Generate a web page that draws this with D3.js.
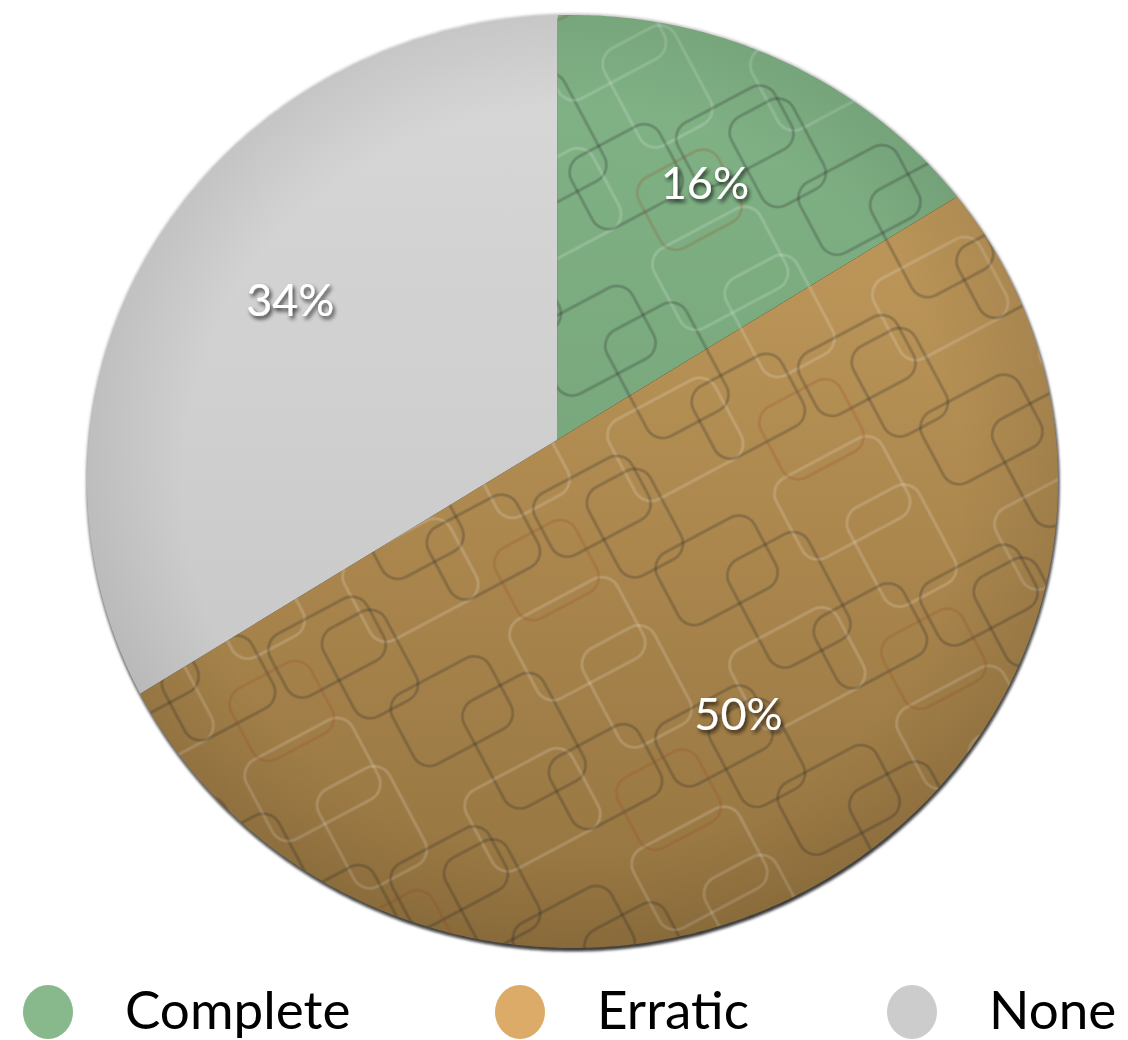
<!DOCTYPE html>
<html>
<head>
<meta charset="utf-8">
<script src="https://cdn.jsdelivr.net/npm/d3@7"></script>
<style>
  body { margin: 0; background: #fff; }
  svg { display: block; }
  text { font-family: "Gill Sans", "Gill Sans MT", Lato, sans-serif; }
</style>
</head>
<body>
<svg id="chart" width="1128" height="1040"></svg>
<script>
// data
var categories = ["Complete", "Erratic", "None"]
var shares = [16, 50, 34]
var labels = ["16%", "50%", "34%"]

// kleuren (boven, onder, legenda)
var topColors = ["#82b487", "#c9a161", "#d8d8d8"]
var bottomColors = ["#6c996f", "#94733f", "#c3c3c3"]
var legendColors = ["#88b98c", "#dcab67", "#cccccc"]

// vorm van de gekantelde taart
var W = 1128, H = 1040
var cx = 572.5, cy = 481.5, rx = 485.5, ry = 466.5
// punt waar de stukken samenkomen (genormaliseerd)
var apex = [(557 - cx) / rx, (440 - cy) / ry]

// einstein optelling: verschuift de eenheidscirkel zodat het midden op apex ligt
function project(q) {
  var u = apex
  var uu = u[0] * u[0] + u[1] * u[1]
  var g = 1 / Math.sqrt(1 - uu)
  var uv = u[0] * q[0] + u[1] * q[1]
  var k = g / (1 + g) * uv
  var s = 1 / (1 + uv)
  var x = s * (u[0] + q[0] / g + k * u[0])
  var y = s * (u[1] + q[1] / g + k * u[1])
  return [cx + x * rx, cy + y * ry]
}

function polar(a, r) {
  return [Math.sin(a) * r, -Math.cos(a) * r]
}

var svg = d3.select("#chart")
var defs = svg.append("defs")

// verlopen per stuk
categories.forEach(function(c, i) {
  var grad = defs.append("linearGradient")
    .attr("id", "grad" + i)
    .attr("gradientUnits", "userSpaceOnUse")
    .attr("x1", 0).attr("y1", 15).attr("x2", 0).attr("y2", 948)
  grad.append("stop").attr("offset", 0).attr("stop-color", topColors[i])
  grad.append("stop").attr("offset", 1).attr("stop-color", bottomColors[i])
})

// randschaduw
var edge = defs.append("radialGradient")
  .attr("id", "edge")
  .attr("gradientUnits", "userSpaceOnUse")
  .attr("cx", cx).attr("cy", cy).attr("r", rx)
  .attr("gradientTransform", "translate(" + cx + "," + cy + ") scale(1," + (ry / rx) + ") translate(" + (-cx) + "," + (-cy) + ")")
edge.append("stop").attr("offset", 0.8).attr("stop-color", "#000").attr("stop-opacity", 0)
edge.append("stop").attr("offset", 1).attr("stop-color", "#000").attr("stop-opacity", 0.08)

// patroon van afgeronde rechthoeken
var pat = defs.append("pattern")
  .attr("id", "retro")
  .attr("patternUnits", "userSpaceOnUse")
  .attr("width", 300).attr("height", 260)
  .attr("patternTransform", "rotate(-28)")
var rects = [
  [10, 20, 110, 80, "dark"], [70, 60, 90, 120, "dark"], [150, 10, 120, 90, "light"],
  [200, 70, 80, 110, "light"], [30, 140, 120, 90, "light"], [120, 150, 100, 80, "dark"],
  [230, 170, 110, 70, "dark"], [-20, 190, 70, 100, "dark"], [170, 200, 90, 80, "rust"]
]
rects.forEach(function(r) {
  var stroke = r[4] === "dark" ? "rgba(40,40,40,0.26)" : r[4] === "light" ? "rgba(255,255,255,0.17)" : "rgba(150,70,30,0.22)"
  ;[0, -300, 300].forEach(function(ox) {
    ;[0, -260, 260].forEach(function(oy) {
      pat.append("rect")
        .attr("x", r[0] + ox).attr("y", r[1] + oy)
        .attr("width", r[2]).attr("height", r[3])
        .attr("rx", 18)
        .attr("fill", "none")
        .attr("stroke", stroke)
        .attr("stroke-width", 3)
    })
  })
})

// schaduw voor tekst
var ts = defs.append("filter").attr("id", "textShadow")
  .attr("x", "-20%").attr("y", "-20%").attr("width", "140%").attr("height", "140%")
ts.append("feDropShadow").attr("dx", 2).attr("dy", 3).attr("stdDeviation", 2)
  .attr("flood-color", "#000").attr("flood-opacity", 0.75)

var blur = defs.append("filter").attr("id", "blur")
blur.append("feGaussianBlur").attr("stdDeviation", 1.5)

// taart
var pie = d3.pie().sort(null).value(function(d) { return d })
var arcs = pie(shares)

var line = d3.line().curve(d3.curveLinearClosed)

function slicePoints(d) {
  var pts = [project([0, 0])]
  var n = Math.max(8, Math.ceil((d.endAngle - d.startAngle) / 0.01))
  for (var j = 0; j <= n; j++) {
    var a = d.startAngle + (d.endAngle - d.startAngle) * j / n
    pts.push(project(polar(a, 1)))
  }
  return pts
}

var whole = slicePoints({startAngle: 0, endAngle: 2 * Math.PI})
whole.shift()

// donkere rand onderaan
svg.append("path")
  .attr("d", line(whole))
  .attr("fill", "#111")
  .attr("transform", "translate(1,3)")
  .attr("filter", "url(#blur)")

svg.append("path")
  .attr("d", line(whole))
  .attr("fill", "none")
  .attr("stroke", "#888")
  .attr("stroke-width", 1.5)
  .attr("filter", "url(#blur)")

var g = svg.append("g")

g.selectAll(".slice")
  .data(arcs)
  .enter().append("path")
    .attr("class", "slice")
    .attr("d", function(d) { return line(slicePoints(d)) })
    .attr("fill", function(d, i) { return "url(#grad" + i + ")" })

g.selectAll(".texture")
  .data(arcs.filter(function(d, i) { return i < 2 }))
  .enter().append("path")
    .attr("class", "texture")
    .attr("d", function(d) { return line(slicePoints(d)) })
    .attr("fill", "url(#retro)")

g.append("path")
  .attr("d", line(whole))
  .attr("fill", "url(#edge)")

// labels
svg.selectAll(".label")
  .data(arcs)
  .enter().append("text")
    .attr("class", "label")
    .attr("transform", function(d) {
      var p = project(polar((d.startAngle + d.endAngle) / 2, 0.66))
      return "translate(" + p[0] + "," + p[1] + ")"
    })
    .attr("text-anchor", "middle")
    .attr("dy", "0.35em")
    .attr("font-size", 45)
    .attr("fill", "#fff")
    .attr("filter", "url(#textShadow)")
    .text(function(d, i) { return labels[i] })

// legenda
var legendX = [48, 520, 912]
var legend = svg.selectAll(".legend")
  .data(categories)
  .enter().append("g")
    .attr("class", "legend")
    .attr("transform", function(d, i) { return "translate(" + legendX[i] + ",1012)" })

legend.append("ellipse")
  .attr("rx", 25)
  .attr("ry", 27)
  .attr("fill", function(d, i) { return legendColors[i] })

legend.append("text")
  .attr("x", 77)
  .attr("y", 17)
  .attr("font-size", 53)
  .attr("fill", "#000")
  .text(function(d) { return d })
</script>
</body>
</html>
